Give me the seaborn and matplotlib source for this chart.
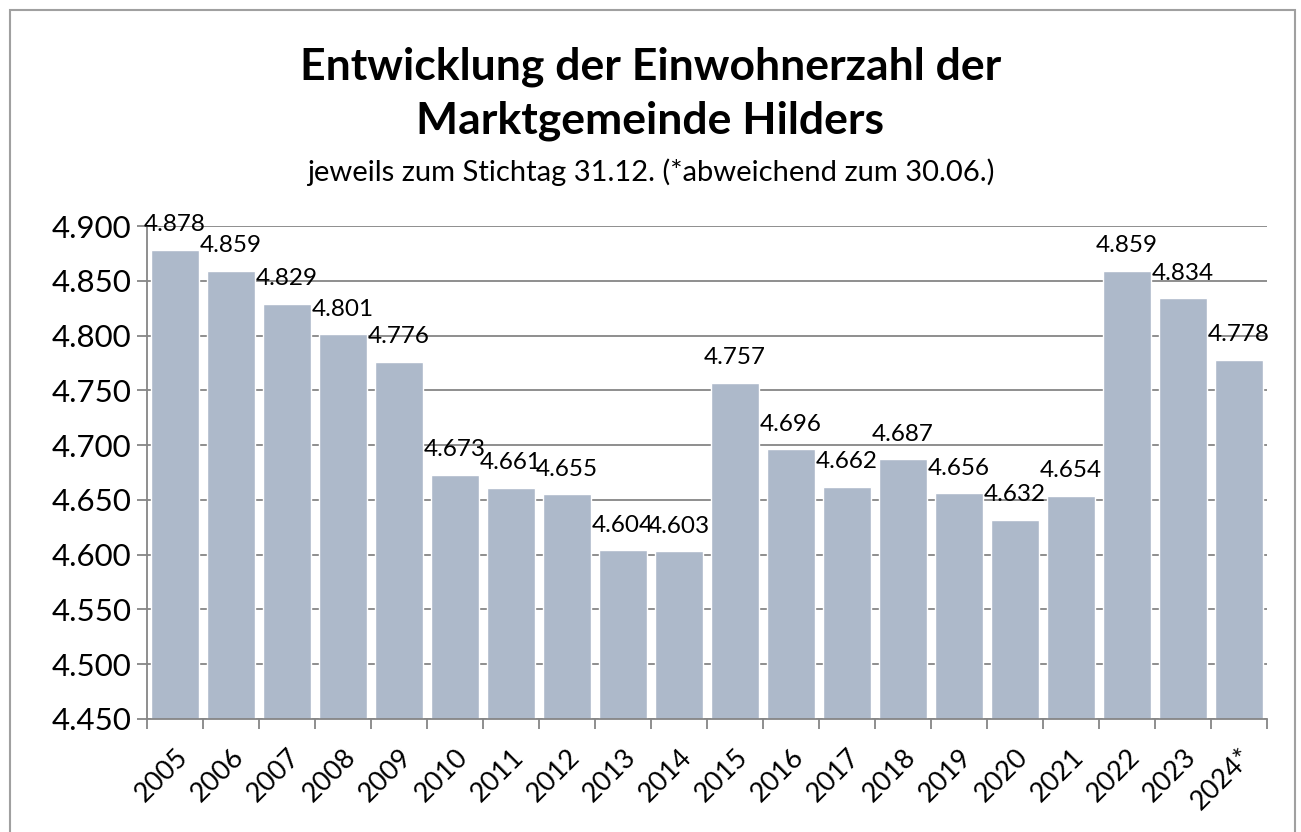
import matplotlib
matplotlib.use("Agg")
import matplotlib.pyplot as plt
import seaborn as sns
import pandas as pd
from matplotlib.patches import Rectangle
from matplotlib.ticker import FuncFormatter, MultipleLocator

years = ["2005", "2006", "2007", "2008", "2009", "2010", "2011", "2012", "2013", "2014",
         "2015", "2016", "2017", "2018", "2019", "2020", "2021", "2022", "2023", "2024*"]
population = [4878, 4859, 4829, 4801, 4776, 4673, 4661, 4655, 4604, 4603,
              4757, 4696, 4662, 4687, 4656, 4632, 4654, 4859, 4834, 4778]
title_line1 = "Entwicklung der Einwohnerzahl der"
title_line2 = "Marktgemeinde Hilders"
subtitle = "jeweils zum Stichtag 31.12. (*abweichend zum 30.06.)"

sns.set_theme(style="white")
plt.rcParams["font.family"] = ["Lato", "DejaVu Sans"]
plt.rcParams["text.color"] = "black"
plt.rcParams["xtick.labelcolor"] = "black"
plt.rcParams["ytick.labelcolor"] = "black"

df = pd.DataFrame({"Jahr": years, "Einwohner": population})

fig = plt.figure(figsize=(13.01, 8.32), dpi=100)
ax = fig.add_axes([147 / 1301, 1 - 719 / 832, (1267 - 147) / 1301, (719 - 226) / 832])

grid_c = "#868686"
ax.set_ylim(4450, 4900)
ax.yaxis.set_major_locator(MultipleLocator(50))
ax.grid(axis="y", color=grid_c, linewidth=1.3)
ax.set_axisbelow(True)

sns.barplot(data=df, x="Jahr", y="Einwohner", color="#ADB9CA", saturation=1,
            width=0.86, edgecolor="white", linewidth=1.0, ax=ax)
ax.set_xlim(-0.5, len(years) - 0.5)

def de_fmt(v, pos=None):
    return f"{v:,.0f}".replace(",", ".")

ax.yaxis.set_major_formatter(FuncFormatter(de_fmt))

for i, v in enumerate(population):
    ax.annotate(de_fmt(v), (i, v), xytext=(0, 13.5), textcoords="offset points",
                ha="center", va="baseline", fontsize=17.5, color="black")

ax.set_xlabel("")
ax.set_ylabel("")
ax.set_xticks(range(len(years)))
ax.set_xticklabels(years, rotation=45, ha="right", rotation_mode="anchor", fontsize=19.5)
ax.tick_params(axis="x", length=0, pad=18)
ax.set_xticks([i - 0.5 for i in range(len(years) + 1)], minor=True)
ax.tick_params(axis="x", which="minor", length=7, width=1.3, color=grid_c, direction="out",
               bottom=True, top=False)
ax.tick_params(axis="y", labelsize=22.5, length=7, width=1.3, color=grid_c, direction="out",
               left=True, right=False, pad=4)

for s in ["top", "right"]:
    ax.spines[s].set_visible(False)
for s in ["left", "bottom"]:
    ax.spines[s].set_color(grid_c)
    ax.spines[s].set_linewidth(1.3)

fig.text(0.5, 1 - 67 / 832, title_line1, ha="center", va="center", fontsize=32, fontweight="bold")
fig.text(0.5, 1 - 121 / 832, title_line2, ha="center", va="center", fontsize=32, fontweight="bold")
fig.text(0.5, 1 - 172 / 832, subtitle, ha="center", va="center", fontsize=21)

fig.patches.append(Rectangle((9.5 / 1301, -0.01), (1295 - 9.5) / 1301, 1 - 10 / 832 + 0.01,
                             transform=fig.transFigure, fill=False, edgecolor="#A0A0A0",
                             linewidth=1.5))

fig.savefig("out.png", dpi=100)
